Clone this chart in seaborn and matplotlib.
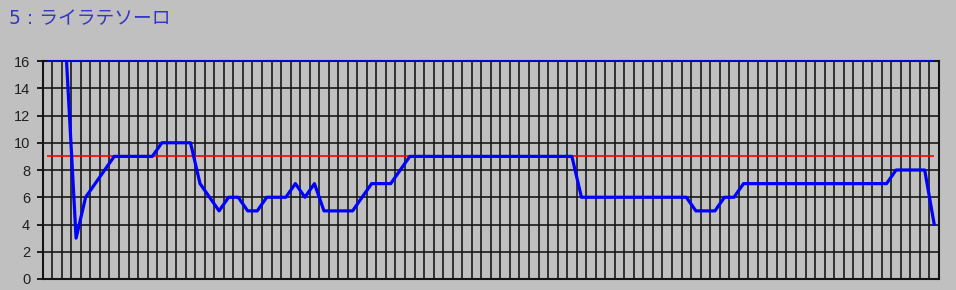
import numpy as np
import pandas as pd
import matplotlib
matplotlib.use("Agg")
import matplotlib.pyplot as plt
import seaborn as sns

title = "5 : ライラテソーロ"
nan = np.nan
values = [nan, nan, 16, 3, 6, 7, 8, 9, 9, 9, 9, 9, 10, 10, 10, 10, 7, 6, 5, 6,
          6, 5, 5, 6, 6, 6, 7, 6, 7, 5, 5, 5, 5, 6, 7, 7, 7, 8,
          9, 9, 9, 9, 9, 9, 9, 9, 9, 9, 9, 9, 9, 9, 9, 9, 9, 9,
          6, 6, 6, 6, 6, 6, 6, 6, 6, 6, 6, 6,
          5, 5, 5,
          6, 6,
          7, 7, 7, 7, 7, 7, 7, 7, 7, 7, 7, 7, 7, 7, 7, 7,
          8, 8, 8, 8,
          4]
ref_level = 9
upper_level = 16
yticks = [0, 2, 4, 6, 8, 10, 12, 14, 16]

df = pd.DataFrame({"idx": np.arange(len(values)), "value": values})
n = len(values)

sns.set_style("white")
plt.rcParams["font.family"] = ["Liberation Sans", "DejaVu Sans"]

W, H = 956, 290
fig = plt.figure(figsize=(W / 100, H / 100), dpi=100)
fig.patch.set_facecolor("#c0c0c0")
left, right, top, bottom = 42.7, 939, 61, 279
ax = fig.add_axes([left / W, (H - bottom) / H, (right - left) / W, (bottom - top) / H])
ax.set_facecolor("#c0c0c0")

ax.set_xlim(-0.5, n - 0.5)
ax.set_ylim(0, 16)
ax.set_xticks(np.arange(-0.5, n, 1.0))
ax.set_xticklabels([])
ax.tick_params(axis="x", length=0)
ax.set_yticks(yticks)
ax.set_yticklabels([str(v) for v in yticks], fontsize=10.5, color="#202020")
ax.tick_params(axis="y", length=4, width=1.3, color="#101010", pad=5, left=True)
ax.grid(True, color="#181818", linewidth=1.2)
ax.set_axisbelow(True)
for side in ["left", "right", "bottom", "top"]:
    ax.spines[side].set_visible(True)
    ax.spines[side].set_color("#141414")
    ax.spines[side].set_linewidth(1.5)

ax.hlines(ref_level, df["idx"].iloc[0], df["idx"].iloc[-1], color="#ff0000", linewidth=1.2, zorder=3)
ax.hlines(upper_level, df["idx"].iloc[0], df["idx"].iloc[-1], color="#0000ff", linewidth=1.2, zorder=3, clip_on=False)

sns.lineplot(data=df, x="idx", y="value", color="#0000ff", linewidth=2.3, ax=ax, zorder=4)
ax.set_xlabel("")
ax.set_ylabel("")

fig.text(9 / W, 1 - 24 / H, title, va="baseline", ha="left", fontsize=13.5, color="#3535c8",
         family=["DejaVu Sans", "Noto Sans CJK JP"])

fig.savefig("out.png", dpi=100, facecolor=fig.get_facecolor())
